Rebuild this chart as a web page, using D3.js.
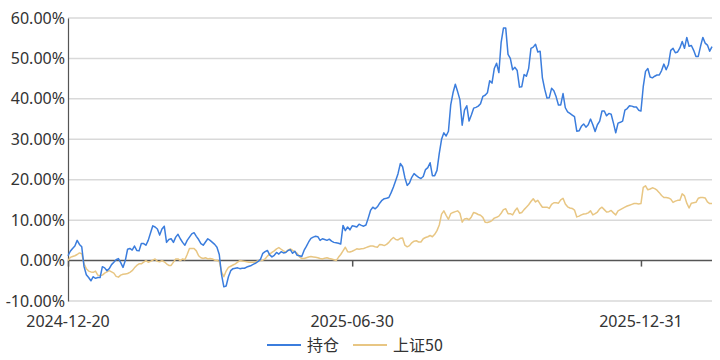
<!DOCTYPE html>
<html><head><meta charset="utf-8">
<script src="https://cdn.jsdelivr.net/npm/d3@7/dist/d3.min.js"></script>
<style>body{margin:0;background:#fff}svg{display:block}</style>
</head><body><svg id="c" width="720" height="360"></svg>
<script>
const seriesNames = ["持仓", "上证50"];
const seriesColors = ["#3b7ddd", "#e8c683"];
const tickIndex = [0, 124, 250];
const tickLabels = ["2024-12-20", "2025-06-30", "2025-12-31"];
const yTicks = [-10, 0, 10, 20, 30, 40, 50, 60];
const holding = [
1.2,2.3,3.0,3.6,5.0,4.0,3.4,-1.5,-3.5,-4.2,-5.0,-4.0,-4.4,-4.2,-4.2,-1.5,-1.8,-2.5,-2.0,-1.0,
-0.4,0.2,0.5,-0.5,-1.7,0.0,2.8,3.0,2.6,3.6,2.5,2.4,4.2,4.2,3.8,5.0,6.8,8.6,8.3,7.8,
6.3,7.8,8.5,4.5,5.2,5.4,4.5,5.8,6.5,5.4,4.5,3.8,5.0,5.8,6.6,6.9,6.0,5.2,4.2,3.8,
4.6,5.4,5.0,4.5,4.0,3.3,1.5,-3.5,-6.5,-6.3,-4.0,-2.5,-2.0,-1.9,-1.8,-2.0,-1.9,-1.9,-1.6,-1.4,
-1.2,-0.9,-0.6,-0.2,0.3,1.8,2.2,2.5,1.4,0.9,1.3,2.0,1.6,2.2,1.9,2.0,2.5,2.7,1.8,2.3,
1.3,1.2,1.0,2.5,3.5,4.6,5.5,5.8,6.0,5.9,5.0,5.4,5.2,5.0,5.3,4.8,4.5,4.4,4.3,4.1,
8.7,7.4,8.3,7.6,8.6,8.5,8.3,9.0,8.7,8.5,8.8,10.5,12.4,13.2,12.8,13.3,14.2,14.9,15.3,15.4,
15.6,16.8,18.2,19.8,21.5,24.0,23.2,20.5,18.6,19.2,20.6,21.5,21.0,20.6,20.3,20.8,22.5,23.0,24.2,21.0,
21.0,22.3,26.5,30.0,31.6,30.8,32.0,38.5,41.5,43.6,41.8,39.8,33.5,37.2,38.3,34.5,36.0,37.7,37.9,38.2,
38.8,40.6,40.9,41.5,44.5,43.9,47.5,48.8,46.5,54.0,57.5,57.5,51.0,50.0,47.2,47.8,47.0,42.9,43.0,46.0,
45.6,47.5,52.5,52.8,53.5,51.6,51.8,45.2,42.4,40.2,40.3,42.6,42.0,40.5,38.5,38.5,41.3,37.8,36.8,36.4,
36.0,35.6,32.0,32.1,33.2,33.8,33.0,33.6,35.0,33.6,31.9,33.6,34.5,37.0,37.0,35.8,36.4,36.2,34.0,31.6,
34.0,34.2,34.5,37.2,37.6,38.3,38.2,38.0,38.0,37.2,37.0,43.0,46.8,47.5,45.4,45.2,45.6,45.9,45.9,47.0,
48.6,47.2,48.5,52.0,52.5,51.4,51.6,52.6,54.2,52.5,55.2,53.0,53.2,52.0,50.5,50.5,53.0,55.2,53.8,53.3,
51.8,52.9
];
const sse50 = [
0.0,0.8,1.0,1.2,1.5,1.9,1.7,-0.8,-2.0,-2.6,-2.8,-2.9,-2.6,-3.6,-3.7,-3.6,-3.1,-2.8,-2.5,-2.8,
-3.1,-3.9,-4.1,-3.6,-3.4,-3.3,-3.2,-2.9,-2.5,-1.8,-1.2,-0.8,-0.8,-0.4,0.0,-0.4,-0.2,0.1,0.4,-0.2,
-0.3,0.0,-0.3,-0.8,-1.2,-1.2,-0.4,0.4,0.4,0.0,0.4,0.2,1.5,3.0,3.0,3.0,2.4,1.2,0.7,0.5,
0.7,0.4,0.5,0.4,0.1,0.0,-0.2,-2.8,-4.0,-2.6,-1.7,-1.4,-1.1,-0.8,-0.4,0.0,-0.1,-0.2,-0.3,-0.4,
-0.4,-0.4,-0.3,0.0,0.0,0.1,0.4,1.1,1.6,2.0,2.4,2.9,3.2,2.8,2.4,2.1,2.6,2.9,2.5,2.2,
1.8,0.9,0.5,0.5,0.7,0.9,1.0,0.9,0.8,0.7,0.5,0.4,0.6,0.7,0.5,0.4,0.2,0.0,0.8,1.5,
2.4,3.3,2.2,2.1,2.3,2.6,2.9,2.8,2.9,3.0,3.2,3.4,3.6,3.6,3.4,3.3,4.0,3.9,3.7,4.0,
4.5,5.2,5.7,5.2,5.1,5.5,5.6,3.8,3.4,3.7,4.4,4.8,4.9,4.6,4.6,5.4,5.7,5.9,6.2,5.9,
6.5,7.4,8.8,11.5,12.3,11.2,10.2,11.6,11.9,12.1,12.3,11.7,9.5,10.3,10.4,10.1,10.8,11.9,11.7,11.4,
11.2,10.7,9.5,9.4,9.6,9.9,10.5,10.7,11.0,11.7,12.6,12.8,11.6,11.6,11.3,12.3,13.0,11.7,11.9,12.6,
13.2,13.8,14.6,15.3,14.5,14.9,14.0,13.2,13.2,13.2,12.9,13.9,14.3,14.3,14.2,15.0,15.4,14.0,13.3,13.0,
12.9,12.5,10.8,11.0,11.3,11.5,11.6,11.8,12.3,11.3,11.6,12.0,12.8,13.2,12.6,12.0,12.1,12.4,11.8,11.3,
12.3,12.6,12.9,13.2,13.5,13.7,13.9,14.1,14.1,14.0,14.1,18.1,18.5,17.5,17.7,18.0,17.8,17.4,16.8,16.1,
15.6,15.6,15.5,15.2,14.4,14.7,14.9,14.9,16.5,16.0,14.2,13.0,14.2,14.3,14.4,15.4,15.6,15.6,15.5,14.5,
14.1,14.1
];

const svg = d3.select("#c");
const W = 720, H = 360;
const m = {left: 68, right: 8, top: 18, bottom: 59};
const font = "'Noto Sans','Noto Sans CJK SC',sans-serif";

const x = d3.scaleLinear().domain([0, holding.length - 1]).range([m.left, W - m.right]);
const y = d3.scaleLinear().domain([-10, 60]).range([H - m.bottom, m.top]);

// grid lines
svg.append("g").selectAll("line").data(yTicks.filter(d => d !== 0)).join("line")
  .attr("x1", m.left).attr("x2", W - m.right)
  .attr("y1", d => y(d)).attr("y2", d => y(d))
  .attr("stroke", "#d9d9d9").attr("stroke-width", 1.5);

// y axis
const yAxis = d3.axisLeft(y).tickValues(yTicks).tickSize(0).tickPadding(3)
  .tickFormat(d => d.toFixed(2) + "%");
const gy = svg.append("g").attr("transform", `translate(${m.left},0)`).call(yAxis);
gy.select(".domain").attr("stroke", "#555").attr("stroke-width", 1.2);
gy.selectAll("text").attr("font-family", font).attr("font-size", 16).attr("fill", "#333");

// x axis on zero line
const xAxis = d3.axisBottom(x).tickValues(tickIndex).tickSize(6).tickFormat(() => "");
const gx = svg.append("g").attr("transform", `translate(0,${y(0)})`).call(xAxis);
gx.select(".domain").attr("stroke", "#555").attr("stroke-width", 1.5).attr("d", `M${m.left},0H${W - m.right}`);
gx.selectAll(".tick line").attr("stroke", "#555").attr("stroke-width", 1.5);

// x labels at bottom
svg.append("g").selectAll("text").data(tickIndex).join("text")
  .attr("x", d => x(d)).attr("y", 327)
  .attr("text-anchor", "middle")
  .attr("font-family", font).attr("font-size", 16).attr("fill", "#333")
  .text((d, i) => tickLabels[i]);

// lines
const line = d3.line().x((d, i) => x(i)).y(d => y(d));
[sse50, holding].forEach((s, k) => {
  const idx = k === 0 ? 1 : 0;
  svg.append("path").datum(s).attr("d", line)
    .attr("fill", "none").attr("stroke", seriesColors[idx])
    .attr("stroke-width", 1.5).attr("stroke-linejoin", "round");
});

// legend
const legend = [{x: 267, name: seriesNames[0], color: seriesColors[0]},
                {x: 353, name: seriesNames[1], color: seriesColors[1]}];
const lg = svg.append("g").selectAll("g").data(legend).join("g")
  .attr("transform", d => `translate(${d.x},345)`);
lg.append("line").attr("x1", 0).attr("x2", 34).attr("y1", 0).attr("y2", 0)
  .attr("stroke", d => d.color).attr("stroke-width", 2);
lg.append("text").attr("x", 40).attr("y", 0).attr("dy", "0.35em")
  .attr("font-family", "'Noto Sans CJK SC','Noto Sans',sans-serif").attr("font-size", 16).attr("fill", "#333")
  .text(d => d.name);
</script></body></html>
